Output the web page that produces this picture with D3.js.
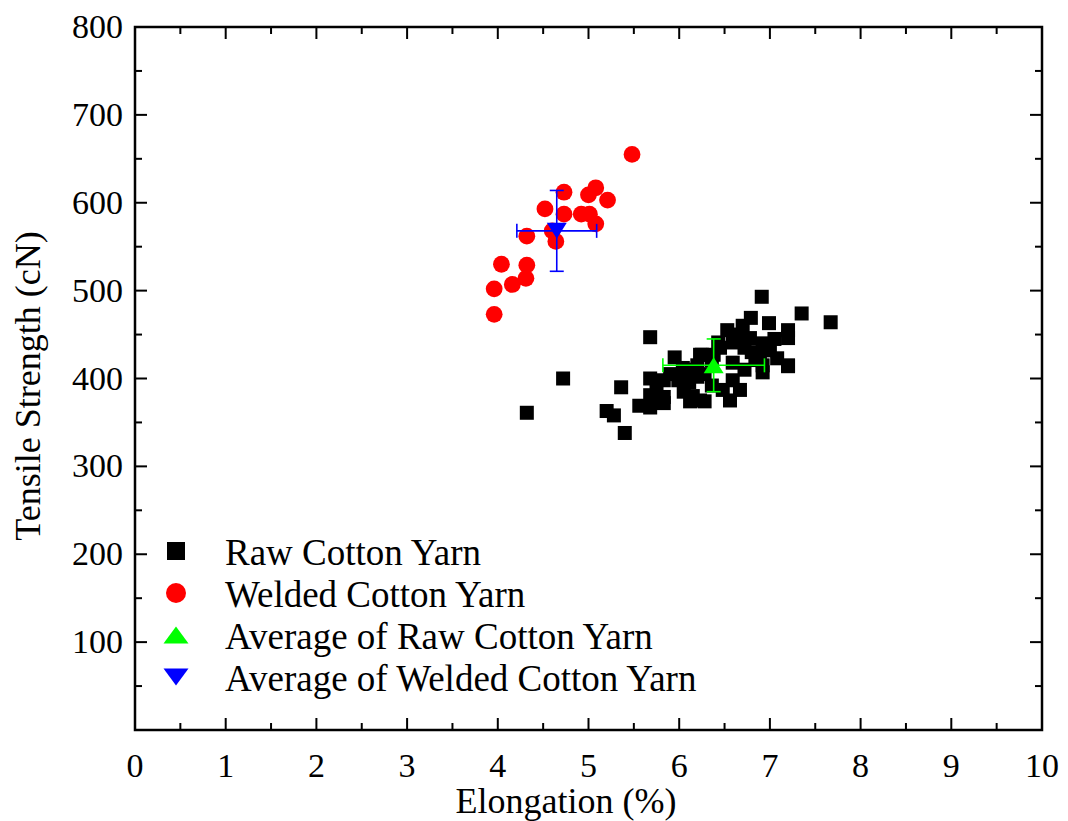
<!DOCTYPE html>
<html><head><meta charset="utf-8">
<script src="https://cdn.jsdelivr.net/npm/d3@7"></script>
<style>body{margin:0;background:#fff;} svg{display:block;} text{font-family:"Liberation Serif","Times New Roman",serif;fill:#000;}</style>
</head><body>
<svg id="chart" width="1068" height="821"></svg>
<script>
// ---- data ----
const xTicks = [0,1,2,3,4,5,6,7,8,9,10];
const yTicks = [100,200,300,400,500,600,700,800];
const seriesNames = ["Raw Cotton Yarn","Welded Cotton Yarn","Average of Raw Cotton Yarn","Average of Welded Cotton Yarn"];

const rawX = [6.91,7.67,7.35,6.79,6.70,6.99,6.53,7.20,7.20,6.43,6.59,6.78,6.92,6.80,7.00,6.23,7.08,7.20,6.84,6.92,6.59,6.59,6.20,6.23,6.56,6.48,5.68,4.72,4.32,5.36,5.20,5.28,5.40,5.68,5.68,5.56,5.68,5.83,5.83,5.83,5.95,5.99,6.11,6.25,6.12,6.28,6.04,6.20,6.36,6.36,6.72,6.89,6.67,6.72,6.92,7.20,6.12,6.28,6.38,6.45,6.65,7.05,6.05,6.15,5.75,5.90];
const rawY = [493,464,474,469,460,463,455,455,446,441,441,446,440,430,432,427,423,414,421,407,418,398,402,375,375,387,447,400,361,390,363,358,338,400,381,369,367,398,379,372,424,398,396,427,374,374,412,415,421,392,435,427,387,410,415,415,410,405,427,435,450,445,385,380,390,405];

const weldX = [5.48,5.08,5.00,4.73,5.21,4.52,4.73,4.92,5.01,5.08,4.60,4.32,4.64,4.04,4.32,4.31,4.16,3.96,3.96];
const weldY = [655,617,609,612,603,593,587,587,587,576,568,562,556,530,529,514,507,502,473];

const avgRaw = {x:6.38, y:415, ex:0.56, ey:30};
const avgWeld = {x:4.65, y:568, ex:0.44, ey:46};

// ---- layout ----
const svg = d3.select("#chart");
const L=135, R=1042, T=27, B=730;
const x = d3.scaleLinear().domain([0,10]).range([L,R]);
const y = d3.scaleLinear().domain([0,800]).range([B,T]);

// axes ticks
const g = svg.append("g");
const major = 12, minor = 7;
const xMinor = d3.range(0.5,10,1);
const yMinor = d3.range(50,800,100);
function tick(x1,y1,x2,y2,w){g.append("line").attr("x1",x1).attr("y1",y1).attr("x2",x2).attr("y2",y2).attr("stroke","#000").attr("stroke-width",w||2);}
xTicks.forEach(v=>{ tick(x(v),B,x(v),B-major); tick(x(v),T,x(v),T+major); });
xMinor.forEach(v=>{ tick(x(v),B,x(v),B-minor); tick(x(v),T,x(v),T+minor); });
[0].concat(yTicks).forEach(v=>{ tick(L,y(v),L+major,y(v)); tick(R,y(v),R-major,y(v)); });
yMinor.forEach(v=>{ tick(L,y(v),L+minor,y(v)); tick(R,y(v),R-minor,y(v)); });
g.append("rect").attr("x",L).attr("y",T).attr("width",R-L).attr("height",B-T).attr("fill","none").attr("stroke","#000").attr("stroke-width",2.5);

// tick labels
xTicks.forEach(v=>{ g.append("text").attr("x",x(v)).attr("y",B+47).attr("text-anchor","middle").attr("font-size",34).text(v); });
yTicks.forEach(v=>{ g.append("text").attr("x",L-12).attr("y",y(v)+11).attr("text-anchor","end").attr("font-size",34).text(v); });

// axis titles
svg.append("text").attr("x",566).attr("y",813).attr("text-anchor","middle").attr("font-size",36).text("Elongation (%)");
svg.append("text").attr("transform","translate(40,386) rotate(-90)").attr("text-anchor","middle").attr("font-size",36).text("Tensile Strength (cN)");

// marks
const sq = 14, cr = 8.4;
svg.append("g").selectAll("rect").data(rawX.map((v,i)=>[v,rawY[i]])).join("rect")
  .attr("x",d=>x(d[0])-sq/2).attr("y",d=>y(d[1])-sq/2).attr("width",sq).attr("height",sq).attr("fill","#000");
svg.append("g").selectAll("circle").data(weldX.map((v,i)=>[v,weldY[i]])).join("circle")
  .attr("cx",d=>x(d[0])).attr("cy",d=>y(d[1])).attr("r",cr).attr("fill","#ff0000");

function triPath(cx,cy,w,h,up){
  return up ? `M${cx-w/2},${cy+h/2}L${cx+w/2},${cy+h/2}L${cx},${cy-h/2}Z`
            : `M${cx-w/2},${cy-h/2}L${cx+w/2},${cy-h/2}L${cx},${cy+h/2}Z`;
}
function avg(a,color,up){
  const ag = svg.append("g").attr("stroke",color).attr("stroke-width",1.6);
  const cx=x(a.x), cy=y(a.y), cap=7;
  ag.append("line").attr("x1",x(a.x-a.ex)).attr("x2",x(a.x+a.ex)).attr("y1",cy).attr("y2",cy);
  ag.append("line").attr("x1",cx).attr("x2",cx).attr("y1",y(a.y-a.ey)).attr("y2",y(a.y+a.ey));
  ag.append("line").attr("x1",x(a.x-a.ex)).attr("x2",x(a.x-a.ex)).attr("y1",cy-cap).attr("y2",cy+cap);
  ag.append("line").attr("x1",x(a.x+a.ex)).attr("x2",x(a.x+a.ex)).attr("y1",cy-cap).attr("y2",cy+cap);
  ag.append("line").attr("x1",cx-cap).attr("x2",cx+cap).attr("y1",y(a.y-a.ey)).attr("y2",y(a.y-a.ey));
  ag.append("line").attr("x1",cx-cap).attr("x2",cx+cap).attr("y1",y(a.y+a.ey)).attr("y2",y(a.y+a.ey));
  svg.append("path").attr("d",triPath(cx,cy,20,16,up)).attr("fill",color);
}
avg(avgRaw,"#00ff00",true);
avg(avgWeld,"#0000ff",false);

// legend
const lg = svg.append("g");
const lx = 176, ly0 = 551, ldy = 42;
seriesNames.forEach((n,i)=>{
  const cy = ly0 + i*ldy;
  if(i===0) lg.append("rect").attr("x",lx-9).attr("y",cy-9).attr("width",18).attr("height",18).attr("fill","#000");
  if(i===1) lg.append("circle").attr("cx",lx).attr("cy",cy).attr("r",10).attr("fill","#ff0000");
  if(i===2) lg.append("path").attr("d",triPath(lx,cy,25,17,true)).attr("fill","#00ff00");
  if(i===3) lg.append("path").attr("d",triPath(lx,cy,25,17,false)).attr("fill","#0000ff");
  lg.append("text").attr("x",225).attr("y",cy+14).attr("font-size",37).text(n);
});
</script>
</body></html>
